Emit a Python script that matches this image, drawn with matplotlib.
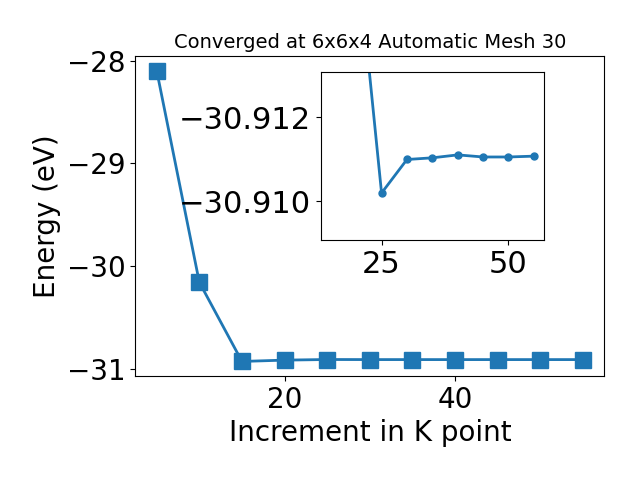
import matplotlib
matplotlib.use('Agg')
import matplotlib.pyplot as plt

kpoints = [5, 10, 15, 20, 25, 30, 35, 40, 45, 50, 55]
energy = [-28.097, -30.158, -30.929, -30.9162, -30.91019, -30.91099,
          -30.91103, -30.91110, -30.91105, -30.91105, -30.91107]

fig = plt.figure(figsize=(6.4, 4.8), dpi=100)
ax = fig.add_axes([0.2115, 0.2167, 0.7328, 0.6667])
ax.plot(kpoints, energy, marker='s', markersize=11.5, linewidth=2, color='#1f77b4')
ax.set_title('Converged at 6x6x4 Automatic Mesh 30', fontsize=14)
ax.set_xlabel('Increment in K point', fontsize=20)
ax.set_ylabel('Energy (eV)', fontsize=20)
ax.tick_params(labelsize=20)
ax.set_yticks([-31, -30, -29, -28])

# inset zoom on converged part
ins = fig.add_axes([0.501, 0.5, 0.349, 0.3494])
ins.plot(kpoints[2:], energy[2:], marker='o', markersize=5, linewidth=2, color='#1f77b4')
ins.set_ylim(energy[-1] + 0.002, energy[-1] - 0.002)
ins.set_yticks([-30.912, -30.910])
ins.set_xticks([25, 50])
ins.tick_params(labelsize=22)

fig.savefig('out.png', dpi=100)
